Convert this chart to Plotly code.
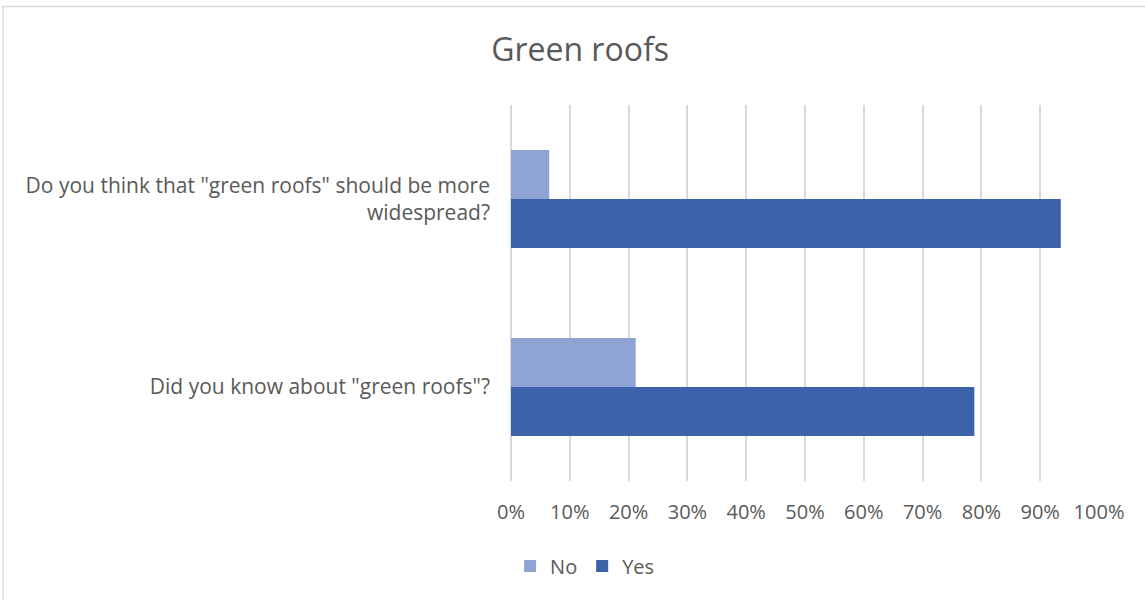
import plotly.graph_objects as go

categories = ['Do you think that "green roofs" should be more<br>widespread?',
              'Did you know about "green roofs"?']
no_values = [0.065, 0.212]
yes_values = [0.935, 0.788]
tick_vals = [0, 0.1, 0.2, 0.3, 0.4, 0.5, 0.6, 0.7, 0.8, 0.9, 1.0]
tick_text = ["0%", "10%", "20%", "30%", "40%", "50%", "60%", "70%", "80%", "90%", "100%"]

FONT = "Open Sans"
TXT = "#595959"

fig = go.Figure()
fig.add_trace(go.Bar(y=categories, x=no_values, name="No", orientation="h",
                     marker=dict(color="#8FA3D4", line=dict(width=0))))
fig.add_trace(go.Bar(y=categories, x=yes_values, name="Yes", orientation="h",
                     marker=dict(color="#3C63AA", line=dict(width=0))))

fig.update_layout(
    width=1145, height=600,
    margin=dict(l=511, r=46, t=105, b=119),
    paper_bgcolor="white", plot_bgcolor="white",
    barmode="group", bargap=0.48, bargroupgap=0,
    font=dict(family=FONT, color=TXT, size=20),
    title=dict(text="Green roofs", x=0.5066, xanchor="center", y=0.917, yanchor="middle",
               font=dict(family=FONT, size=32, color=TXT)),
    showlegend=True,
    legend=dict(orientation="h", x=0.126, xanchor="center", y=-0.226, yanchor="middle",
                font=dict(size=20, color=TXT), itemwidth=30, traceorder="normal"),
    xaxis=dict(range=[0, 1.0], tickvals=tick_vals, ticktext=tick_text,
               showgrid=True, gridcolor="#D9D9D9", gridwidth=1.5,
               zeroline=True, zerolinecolor="#D9D9D9", zerolinewidth=1.5,
               showline=False, ticks="", ticklabelstandoff=17,
               tickfont=dict(size=20, color=TXT)),
    yaxis=dict(type="category", categoryorder="array", categoryarray=categories,
               autorange="reversed", showgrid=False, zeroline=False, showline=False,
               ticks="", ticklabelstandoff=20, tickfont=dict(size=21, color=TXT)),
    shapes=[dict(type="rect", xref="paper", yref="paper",
                 x0=-0.864, x1=1.2, y0=-0.5, y1=1.262,
                 line=dict(color="#D9D9D9", width=1.5), fillcolor="rgba(0,0,0,0)",
                 layer="below")],
)

fig.write_html("out.html")
